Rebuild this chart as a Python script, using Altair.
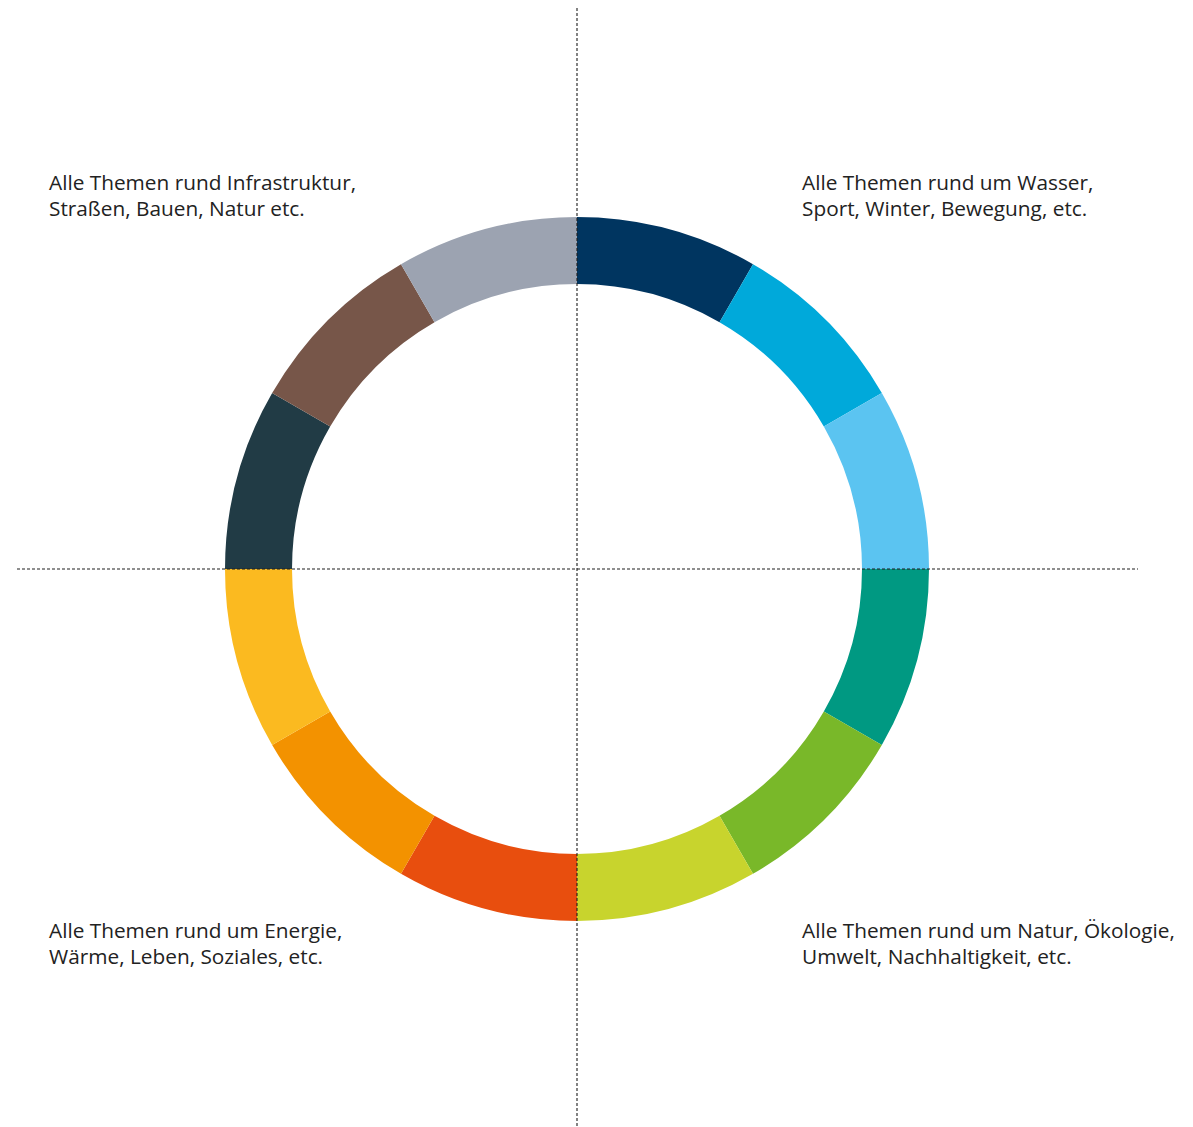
import altair as alt
import pandas as pd

segments = ["S01", "S02", "S03", "S04", "S05", "S06", "S07", "S08", "S09", "S10", "S11", "S12"]
values = [1, 1, 1, 1, 1, 1, 1, 1, 1, 1, 1, 1]
colors = ["#003560", "#00A9DA", "#5BC4F1", "#009982", "#79B829", "#C8D42D",
          "#E84E0E", "#F39200", "#FBBA20", "#213B45", "#775649", "#9CA3B1"]

label_tr = ["Alle Themen rund um Wasser,", "Sport, Winter, Bewegung, etc."]
label_tl = ["Alle Themen rund Infrastruktur,", "Straßen, Bauen, Natur etc."]
label_bl = ["Alle Themen rund um Energie,", "Wärme, Leben, Soziales, etc."]
label_br = ["Alle Themen rund um Natur, Ökologie,", "Umwelt, Nachhaltigkeit, etc."]

W, H = 1177, 1119
CX, CY = 569, 561

df = pd.DataFrame({"segment": segments, "value": values, "order": list(range(len(segments)))})

donut = alt.Chart(df).mark_arc(radius=352, radius2=285, stroke=None).encode(
    theta=alt.Theta("value:Q", stack=True),
    order=alt.Order("order:Q"),
    color=alt.Color("segment:N", scale=alt.Scale(domain=segments, range=colors), legend=None),
    x=alt.value(CX),
    y=alt.value(CY),
)

one = pd.DataFrame({"k": [0]})
vline = alt.Chart(one).mark_rule(color="#1e1e1e", strokeDash=[3, 2], strokeWidth=1.1).encode(
    x=alt.value(CX), y=alt.value(0), y2=alt.value(H)
)
hline = alt.Chart(one).mark_rule(color="#1e1e1e", strokeDash=[3, 2], strokeWidth=1.1).encode(
    y=alt.value(CY), x=alt.value(9), x2=alt.value(1130)
)

def label(lines, x, y):
    return alt.Chart(one).mark_text(
        align="left", baseline="middle", font="Open Sans", fontSize=20.8,
        color="#222222", lineHeight=26, lineBreak="\n"
    ).encode(x=alt.value(x), y=alt.value(y), text=alt.value("\n".join(lines)))

texts = [
    label(label_tl, 41, 176),
    label(label_tr, 794, 176),
    label(label_bl, 41, 924),
    label(label_br, 794, 924),
]

chart = alt.layer(donut, vline, hline, *texts).properties(
    width=W, height=H, autosize=alt.AutoSizeParams(type="none"), padding=0
).configure_view(stroke=None)

chart.save("out.html", embed_options={"renderer": "svg", "actions": False})
